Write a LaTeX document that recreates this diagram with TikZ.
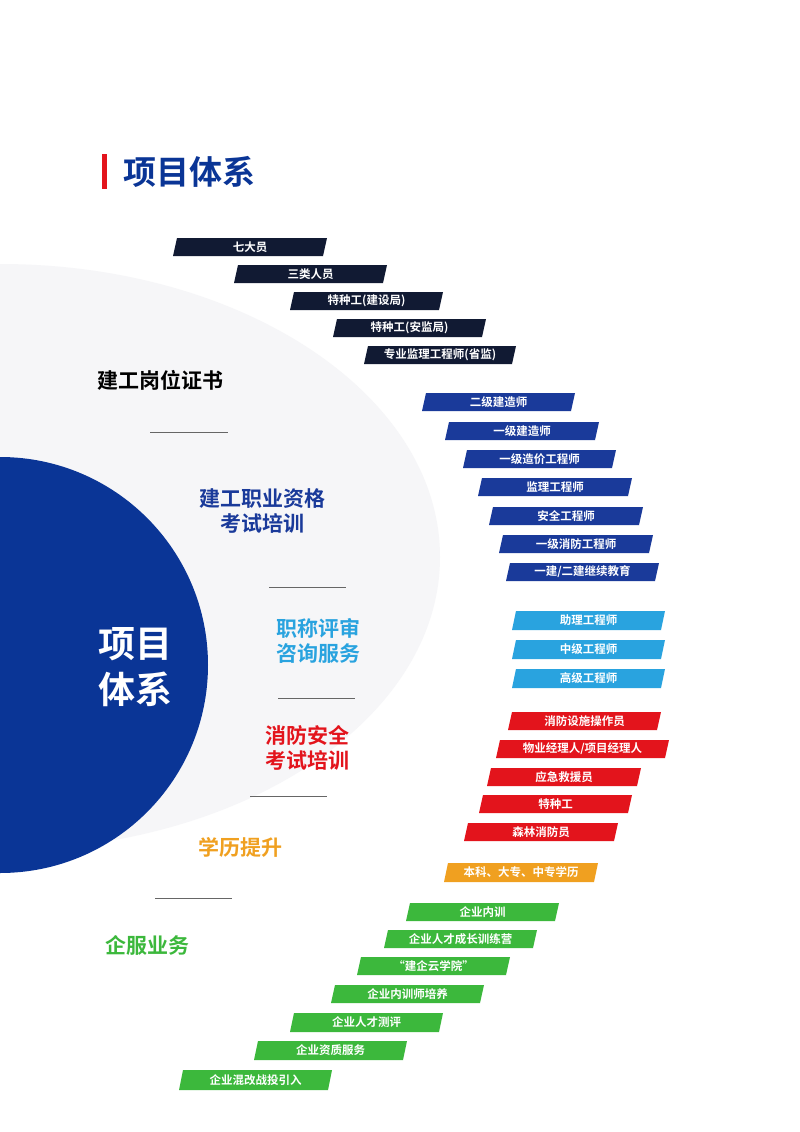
\documentclass[tikz,border=0pt]{standalone}
\usepackage{fontspec}
\setmainfont{Noto Sans CJK SC}[BoldFont={* Bold}]
\newfontfamily\cjkb{Noto Sans CJK SC Bold}
\definecolor{navyk}{HTML}{111A33}
\definecolor{dblue}{HTML}{1A3A9A}
\definecolor{lblue}{HTML}{29A3DF}
\definecolor{fred}{HTML}{E3141C}
\definecolor{forange}{HTML}{F0A020}
\definecolor{fgreen}{HTML}{3CB83C}
\definecolor{cblue}{HTML}{0A3596}
\definecolor{greyc}{HTML}{F6F6F8}
\tikzset{bartext/.style={text=white,font=\cjkb\fontsize{11.5}{12}\selectfont,inner sep=0pt},
 cat/.style={font=\cjkb\fontsize{21}{25}\selectfont,align=center,inner sep=0pt},
 divline/.style={draw=gray!80!black,line width=0.8pt}}
\newcommand\pbar[7]{%
 \fill[#1] (#2-2,#5) -- (#2+2,#4) -- (#3+2,#4) -- (#3-2,#5) -- cycle;
 \node[bartext] (#7) at ({(#2+#3)/2},{(#4+#5)/2}) {#6};}
\begin{document}
\begin{tikzpicture}[x=1pt,y=-1pt]
\useasboundingbox (0,0) rectangle (800,1132);
\fill[white] (0,0) rectangle (800,1132);
\begin{scope}
\clip (0,0) rectangle (800,1132);
\fill[greyc] (0,557) ellipse [x radius=440, y radius=293];
\fill[cblue] (0,665) circle [radius=208];
\end{scope}
\fill[fred] (102,154) rectangle (107,189);
\node[anchor=west,font=\cjkb\fontsize{33}{36}\selectfont,text=cblue,inner sep=0pt] (title) at (123,172) {项目体系};
\node[cat,text=white,font=\cjkb\fontsize{37}{46}\selectfont] (center) at (135,667) {项目\\体系};
\node[cat,text=black] (c1) at (160,380) {建工岗位证书};
\node[cat,text=dblue] (c2) at (262,511) {建工职业资格\\考试培训};
\node[cat,text=lblue] (c3) at (318,641) {职称评审\\咨询服务};
\node[cat,text=fred] (c4) at (307,748) {消防安全\\考试培训};
\node[cat,text=forange] (c5) at (240,847) {学历提升};
\node[cat,text=fgreen] (c6) at (147,945) {企服业务};
\draw[divline] (150,432) -- (228,432);
\draw[divline] (269,587) -- (346,587);
\draw[divline] (278,698) -- (355,698);
\draw[divline] (250,796) -- (327,796);
\draw[divline] (155,898) -- (232,898);
\pbar{navyk}{175}{325}{238}{256}{七大员}{a1}
\pbar{navyk}{236}{385}{265}{283}{三类人员}{a2}
\pbar{navyk}{292}{441}{292}{310}{特种工(建设局)}{a3}
\pbar{navyk}{335}{484}{319}{337}{特种工(安监局)}{a4}
\pbar{navyk}{366}{514}{346}{364}{专业监理工程师(省监)}{a5}
\pbar{dblue}{424}{573}{393}{411}{二级建造师}{b1}
\pbar{dblue}{447}{597}{422}{440}{一级建造师}{b2}
\pbar{dblue}{465}{614}{450}{468}{一级造价工程师}{b3}
\pbar{dblue}{480}{630}{478}{496}{监理工程师}{b4}
\pbar{dblue}{491}{641}{507}{525}{安全工程师}{b5}
\pbar{dblue}{501}{651}{535}{553}{一级消防工程师}{b6}
\pbar{dblue}{508}{657}{563}{581}{一建/二建继续教育}{b7}
\pbar{lblue}{514}{663}{611}{630}{助理工程师}{d1}
\pbar{lblue}{514}{663}{640}{659}{中级工程师}{d2}
\pbar{lblue}{514}{663}{669}{688}{高级工程师}{d3}
\pbar{fred}{510}{659}{712}{730}{消防设施操作员}{e1}
\pbar{fred}{498}{667}{740}{758}{物业经理人/项目经理人}{e2}
\pbar{fred}{489}{639}{768}{786}{应急救援员}{e3}
\pbar{fred}{481}{630}{795}{813}{特种工}{e4}
\pbar{fred}{466}{616}{823}{841}{森林消防员}{e5}
\pbar{forange}{446}{596}{863}{882}{本科、大专、中专学历}{f1}
\pbar{fgreen}{408}{557}{903}{921}{企业内训}{g1}
\pbar{fgreen}{386}{535}{930}{948}{企业人才成长训练营}{g2}
\pbar{fgreen}{359}{508}{957}{975}{“建企云学院”}{g3}
\pbar{fgreen}{333}{482}{985}{1003}{企业内训师培养}{g4}
\pbar{fgreen}{292}{441}{1013}{1032}{企业人才测评}{g5}
\pbar{fgreen}{256}{405}{1041}{1060}{企业资质服务}{g6}
\pbar{fgreen}{181}{330}{1070}{1090}{企业混改战投引入}{g7}
\end{tikzpicture}
\end{document}
